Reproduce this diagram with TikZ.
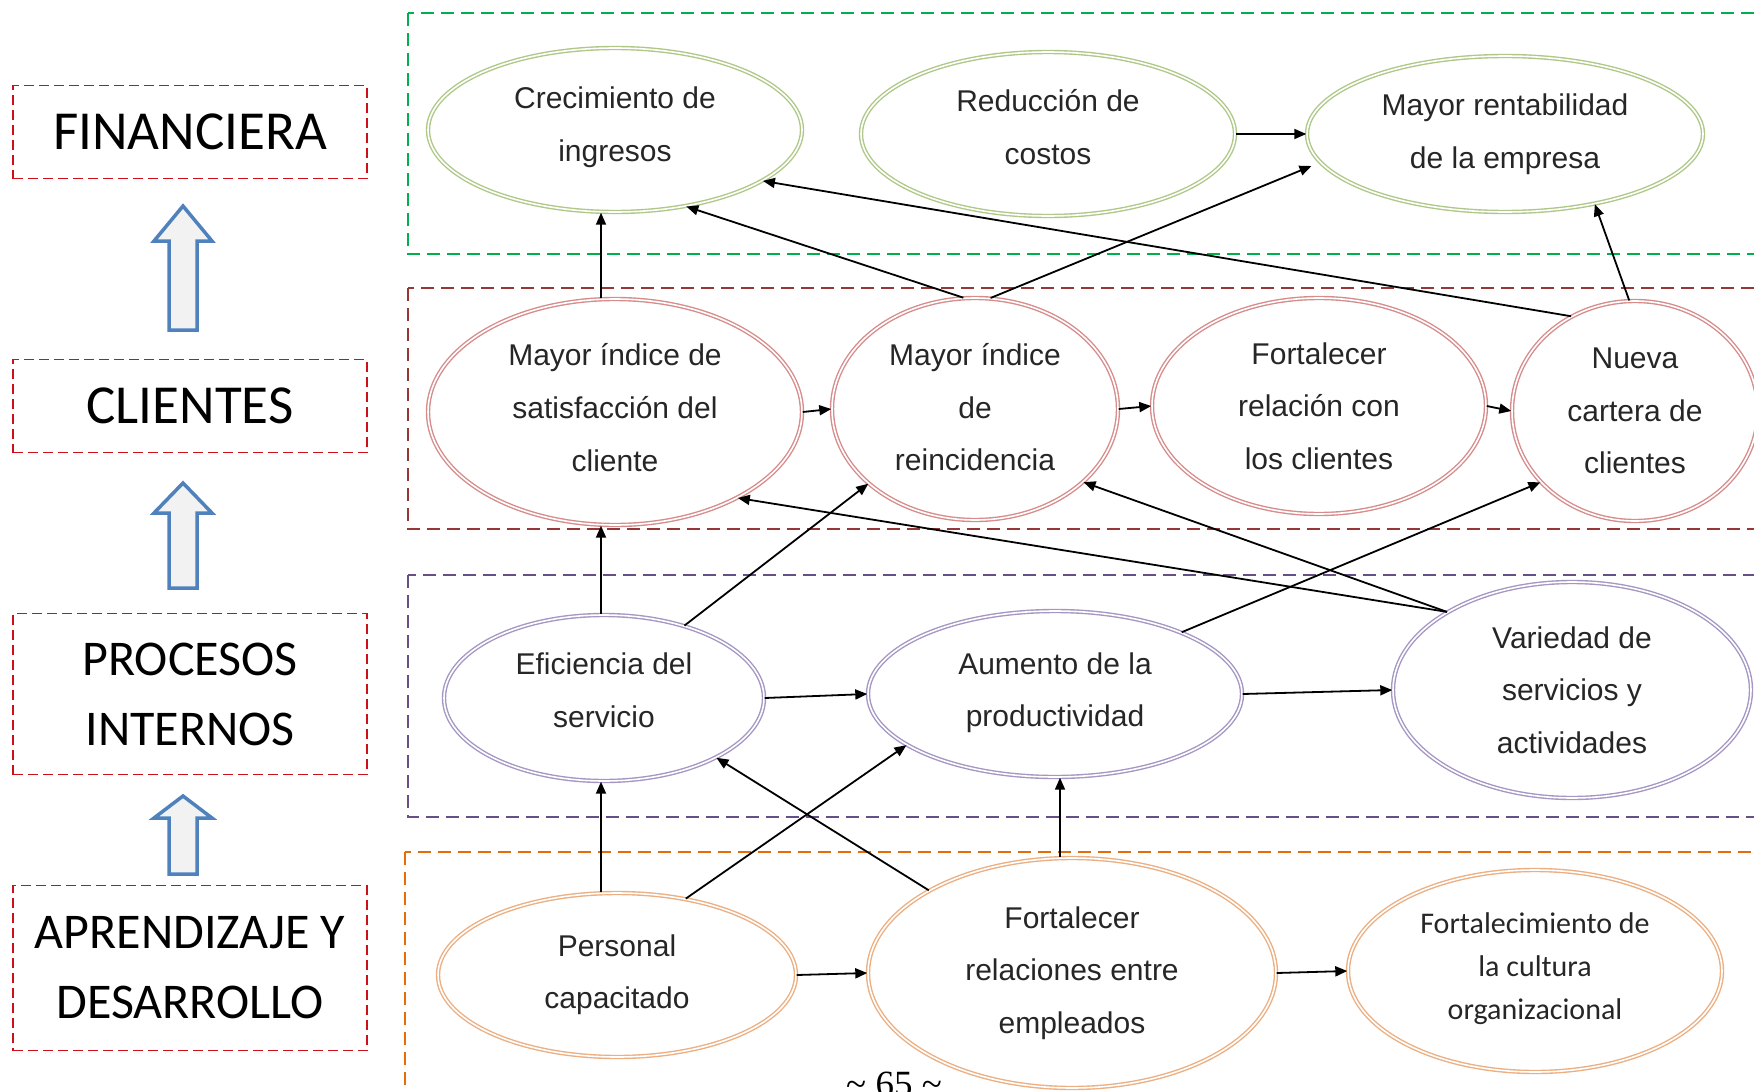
\documentclass[tikz,border=0pt]{standalone}
\usepackage{fontspec}
\setmainfont{Liberation Sans}
\newfontfamily\calibri{Carlito}
\newfontfamily\timesf{Liberation Serif}
\usetikzlibrary{arrows.meta,shapes.geometric}

\definecolor{boxred}{RGB}{205,15,25}
\definecolor{lgreen}{RGB}{0,176,80}
\definecolor{lbrown}{RGB}{150,55,55}
\definecolor{lpurple}{RGB}{100,80,135}
\definecolor{lorange}{RGB}{228,108,10}
\definecolor{arrblue}{RGB}{79,129,189}
\definecolor{arrfill}{RGB}{242,242,242}
\definecolor{fincol}{RGB}{175,200,135}
\definecolor{clicol}{RGB}{215,140,140}
\definecolor{procol}{RGB}{165,150,195}
\definecolor{aprcol}{RGB}{235,175,130}

\newcommand{\upblock}[4]{% x, tip y, base y, head length
\draw[blockarr] (#1,#2) -- (#1+29,#2+#4) -- (#1+14,#2+#4) -- (#1+14,#3)
 -- (#1-14,#3) -- (#1-14,#2+#4) -- (#1-29,#2+#4) -- cycle;}
\newcommand{\lift}[1]{\rule[-#1pt]{0pt}{0pt}}

\begin{document}
\begin{tikzpicture}[x=1pt, y=-1pt, >={Triangle[width=10pt,length=12pt]},
 persp/.style={draw=boxred, dash pattern=on 10pt off 5pt, line width=1.8pt, minimum width=354pt, inner sep=0pt, align=center, font=\calibri\fontsize{55}{70}\selectfont},
 persp2/.style={persp, font=\calibri\fontsize{50}{70}\selectfont},
 layer/.style={dash pattern=on 13pt off 7pt, line width=2pt},
 blockarr/.style={draw=arrblue, fill=arrfill, line width=3.5pt},
 sz/.style 2 args={minimum width=#1pt, minimum height=#2pt},
 obj/.style={ellipse, double=white, double distance=1.6pt, line width=1.4pt, inner sep=0pt, align=center, text=black!85, font=\fontsize{30}{52.6}\selectfont},
 fin/.style={obj, draw=fincol},
 cli/.style={obj, draw=clicol},
 pro/.style={obj, draw=procol},
 apr/.style={obj, draw=aprcol},
 link/.style={->, line width=1.8pt}]
\useasboundingbox (0,0) rectangle (1754,1092);
\clip (0,0) rectangle (1754,1092);

% perspectivas
\draw (190,132) node[persp, minimum height=93pt] (fin) {FINANCIERA};
\draw (190,406) node[persp, minimum height=93pt] (cli) {CLIENTES};
\draw (190,694) node[persp2, minimum height=161pt] (pro) {PROCESOS\\INTERNOS};
\draw (190,968) node[persp2, minimum height=165pt] (apr) {APRENDIZAJE Y\\DESARROLLO};
\upblock{183}{206}{330}{35}
\upblock{183}{483}{588}{30}
\upblock{183}{796}{874}{22}

% capas
\draw[layer, lgreen] (408,13) rectangle (1790,254);
\draw[layer, lbrown] (408,288) rectangle (1790,529);
\draw[layer, lpurple] (408,575) rectangle (1790,817);
\draw[layer, lorange] (405,852) rectangle (1790,1130);

% objetivos
\draw (615,130) node[fin, sz={374}{164}] (e1) {Crecimiento de\\ingresos\lift{12}};
\draw (1048,134) node[fin, sz={374}{164}] (e2) {Reducción de\\costos\lift{14}};
\draw (1505,134) node[fin, sz={396}{156}] (e3) {Mayor rentabilidad\\de la empresa\lift{6}};
\draw (615,412) node[cli, sz={374}{226}] (e4) {Mayor índice de\\satisfacción del\\cliente\lift{9}};
\draw (975,409) node[cli, sz={286}{222}] (e5) {Mayor índice\\de\\reincidencia\lift{4}};
\draw (1319,406) node[cli, sz={334}{216}] (e6) {Fortalecer\\relación con\\los clientes};
\draw (1635,411) node[cli, sz={246}{220}] (e7) {Nueva\\cartera de\\clientes};
\draw (604,698) node[pro, sz={320}{166}] (e8) {Eficiencia del\\servicio\lift{16}};
\draw (1055,694) node[pro, sz={374}{166}] (e9) {Aumento de la\\productividad\lift{9}};
\draw (1572,690) node[pro, sz={358}{216}] (e10) {Variedad de\\servicios y\\actividades};
\draw (617,975) node[apr, sz={358}{164}] (e11) {Personal\\capacitado\lift{7}};
\draw (1072,973) node[apr, sz={408}{230}] (e12) {Fortalecer\\relaciones entre\\empleados};
\draw (1535,971) node[apr, sz={374}{202}, font=\calibri\fontsize{30}{43}\selectfont] (e13) {Fortalecimiento de\\la cultura\\organizacional\lift{9}};

\draw (894,1096) node[anchor=base, font=\timesf\fontsize{37}{37}\selectfont] (pag) {\textasciitilde{} 65 \textasciitilde};

\path[link] (e2.east) edge (e3.west)
 ([xshift=-14pt]e4.north) edge ([xshift=-14pt]e1.south)
 (e5.96) edge (e1.313)
 (e5.82) edge ([xshift=-12pt]e3.190)
 (e7.124) edge (e1.341)
 (e7.93) edge (e3.322)
 (e4.east) edge (e5.west)
 (e5.east) edge (e6.west)
 (e6.east) edge (e7.west)
 ([xshift=-3pt]e8.north) edge ([xshift=-14pt]e4.south)
 (e8.42) edge (e5.215)
 (e10.148) edge (e4.325)
 (e10.148) edge (e5.326)
 (e9.26) edge (e7.217)
 (e8.east) edge (e9.west)
 (e9.east) edge (e10.west)
 ([xshift=-16pt]e11.north) edge ([xshift=-3pt]e8.south)
 (e11.48) edge (e9.199)
 (e12.150) edge (e8.332)
 ([xshift=-12pt]e12.north) edge ([xshift=5pt]e9.south)
 (e11.east) edge (e12.west)
 (e12.east) edge (e13.west);
\end{tikzpicture}
\end{document}
